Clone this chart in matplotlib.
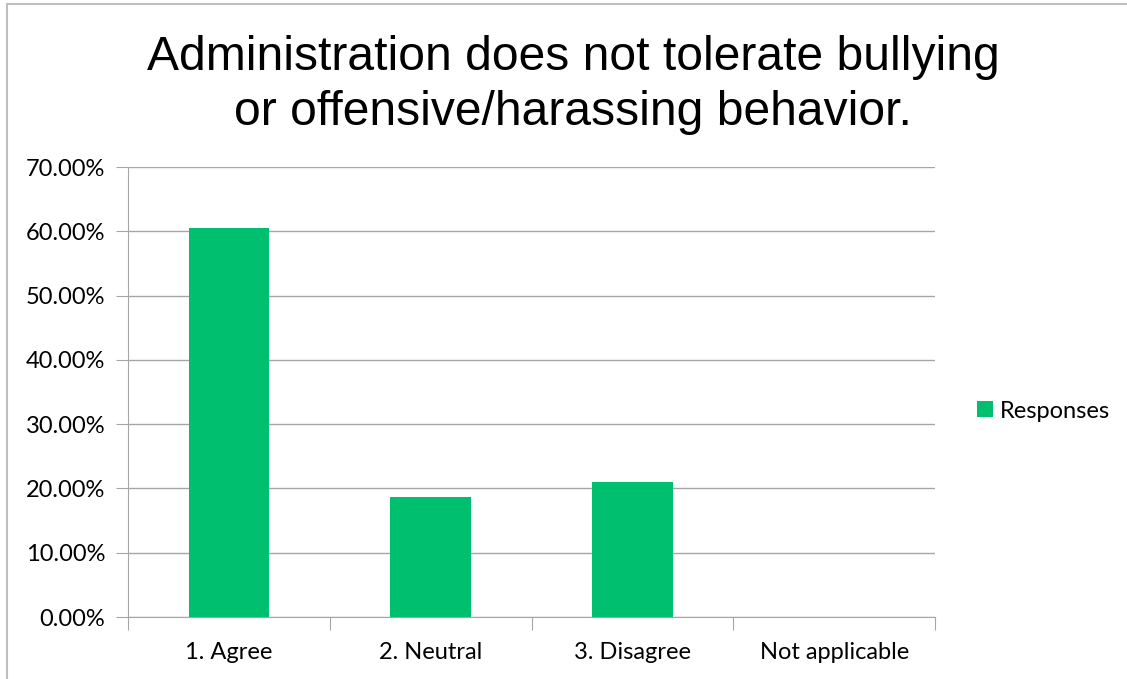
import matplotlib
matplotlib.use("Agg")
import matplotlib.pyplot as plt
from matplotlib.lines import Line2D
from matplotlib.ticker import FuncFormatter, MultipleLocator

categories = ["1. Agree", "2. Neutral", "3. Disagree", "Not applicable"]
responses = [60.47, 18.60, 20.93, 0.0]
series_name = "Responses"
title = "Administration does not tolerate bullying\nor offensive/harassing behavior."

GREEN = "#00bf6f"
GRID = "#a6a6a6"

fig = plt.figure(figsize=(11.27, 6.79), dpi=100)
ax = fig.add_axes([128 / 1127, 62 / 679, 807 / 1127, 450 / 679])

x = range(len(categories))
ax.bar(x, responses, width=0.4, color=GREEN, label=series_name, zorder=3)

ax.set_xlim(-0.5, len(categories) - 0.5)
ax.set_ylim(0, 70)
ax.yaxis.set_major_locator(MultipleLocator(10))
ax.yaxis.set_major_formatter(FuncFormatter(lambda v, _: f"{v:.2f}%"))
ax.grid(axis="y", color=GRID, linewidth=1, zorder=0)

# category labels sit between boundary ticks
ax.set_xticks([i + 0.5 for i in range(-1, len(categories))])
ax.set_xticklabels([])
ax.set_xticks(list(x), minor=True)
ax.set_xticklabels(categories, minor=True)
ax.tick_params(axis="x", which="major", length=9, color=GRID, direction="out")
ax.tick_params(axis="x", which="minor", length=0, pad=18, labelsize=17)
ax.tick_params(axis="y", length=9, color=GRID, labelsize=17, pad=7.5)

for side in ["top", "right"]:
    ax.spines[side].set_visible(False)
ax.spines["left"].set_color(GRID)
ax.spines["bottom"].set_color(GRID)

for lbl in ax.get_xticklabels(minor=True) + ax.get_yticklabels():
    lbl.set_fontfamily("Lato")

fig.text(573 / 1127, 1 - 85 / 679, title, ha="center", va="center",
         fontsize=34.6, family="Liberation Sans", linespacing=1.3)

leg = fig.legend(loc="center left", bbox_to_anchor=(956 / 1127, 1 - 411 / 679),
                 frameon=False, handlelength=0.65, handleheight=0.65,
                 handletextpad=0.3, prop={"family": "Lato", "size": 17})

# outer chart frame
fig.add_artist(Line2D([7 / 1127, 7 / 1127], [0, 1 - 4 / 679], color="#bfbfbf", lw=1.5,
                      transform=fig.transFigure))
fig.add_artist(Line2D([7 / 1127, 1], [1 - 4 / 679, 1 - 4 / 679], color="#bfbfbf", lw=1.5,
                      transform=fig.transFigure))

fig.savefig("out.png", dpi=100)
